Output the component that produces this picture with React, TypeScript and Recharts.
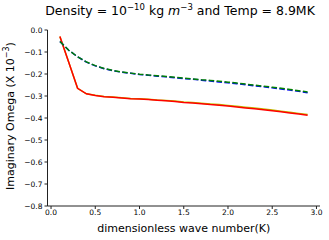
import React from "react";
import {
  Line,
  LineChart,
  XAxis,
  YAxis,
  Label,
} from "recharts";

const kValues = [
  0.1, 0.2, 0.3, 0.4, 0.5, 0.6, 0.7, 0.8, 0.9, 1.0, 1.1, 1.2, 1.3, 1.4, 1.5,
  1.6, 1.7, 1.8, 1.9, 2.0, 2.1, 2.2, 2.3, 2.4, 2.5, 2.6, 2.7, 2.8, 2.9,
];
const redVals = [
  -0.03, -0.147, -0.265, -0.29, -0.298, -0.303, -0.306, -0.309, -0.312, -0.314,
  -0.316, -0.319, -0.322, -0.325, -0.329, -0.332, -0.335, -0.339, -0.342,
  -0.346, -0.35, -0.354, -0.358, -0.362, -0.367, -0.372, -0.377, -0.382, -0.387,
];
const yellowVals = [
  -0.03, -0.147, -0.265, -0.29, -0.297, -0.302, -0.305, -0.308, -0.311, -0.313,
  -0.315, -0.318, -0.32, -0.323, -0.327, -0.33, -0.333, -0.336, -0.339, -0.343,
  -0.347, -0.351, -0.355, -0.359, -0.364, -0.369, -0.374, -0.379, -0.384,
];
const greenVals = [
  -0.052, -0.092, -0.122, -0.145, -0.162, -0.175, -0.184, -0.191, -0.196,
  -0.201, -0.205, -0.208, -0.211, -0.215, -0.219, -0.222, -0.226, -0.229,
  -0.233, -0.237, -0.241, -0.246, -0.251, -0.255, -0.26, -0.265, -0.27, -0.276,
  -0.282,
];
const blueVals = [
  -0.052, -0.092, -0.122, -0.146, -0.163, -0.176, -0.185, -0.192, -0.197,
  -0.202, -0.206, -0.21, -0.213, -0.217, -0.221, -0.224, -0.228, -0.232,
  -0.236, -0.24, -0.244, -0.249, -0.254, -0.258, -0.263, -0.268, -0.273,
  -0.279, -0.285,
];
const xTicks = [0, 0.5, 1.0, 1.5, 2.0, 2.5, 3.0];
const yTicks = [0, -0.1, -0.2, -0.3, -0.4, -0.5, -0.6, -0.7, -0.8];

const data = kValues.map((k, i) => ({
  k,
  red: redVals[i],
  yellow: yellowVals[i],
  green: greenVals[i],
  blue: blueVals[i],
}));

const FONT = "DejaVu Sans, sans-serif";
const AXIS = "#222";

const fmtY = (v: number) => (v === 0 ? "0.0" : "\u2212" + Math.abs(v).toFixed(1));

export default function App() {
  return (
    <div style={{ position: "absolute", left: 0, top: 0, width: 329, height: 240, background: "#fff" }}>
      <div
        style={{
          position: "absolute",
          left: 0,
          width: 360,
          top: 2,
          textAlign: "center",
          fontFamily: FONT,
          fontSize: 12.5,
          color: "#000",
          whiteSpace: "nowrap",
        }}
      >
        Density = 10<sup style={{ fontSize: 8.5 }}>−10</sup> kg <i>m</i>
        <sup style={{ fontSize: 8.5 }}>−3</sup> and Temp = 8.9MK
      </div>
      <LineChart
        width={329}
        height={240}
        data={data}
        margin={{ top: 30, right: 9, bottom: 0, left: 0 }}
      >
        <XAxis
          dataKey="k"
          type="number"
          domain={[-0.04, 3.04]}
          ticks={xTicks}
          tickFormatter={(v: number) => v.toFixed(1)}
          allowDataOverflow
          height={34}
          stroke={AXIS}
          tickSize={3}
          tickMargin={1}
          tick={{ fontSize: 7.5, fill: "#000", fontFamily: FONT }}
        >
          <Label
            content={({ viewBox }: any) => (
              <text
                x={viewBox.x + viewBox.width / 2}
                y={viewBox.y + 26}
                textAnchor="middle"
                fontSize={11}
                fontFamily={FONT}
                fill="#000"
              >
                dimensionless wave number(K)
              </text>
            )}
          />
        </XAxis>
        <XAxis
          xAxisId="top"
          dataKey="k"
          type="number"
          domain={[-0.04, 3.04]}
          orientation="top"
          tick={false}
          tickLine={false}
          height={0}
          stroke={AXIS}
        />
        <YAxis
          type="number"
          domain={[-0.8, 0]}
          ticks={yTicks}
          tickFormatter={fmtY}
          allowDataOverflow
          width={47.5}
          stroke={AXIS}
          tickSize={3}
          tickMargin={2}
          tick={{ fontSize: 7.5, fill: "#000", fontFamily: FONT }}
        >
          <Label
            content={({ viewBox }: any) => {
              const cx = 10;
              const cy = viewBox.y + viewBox.height / 2 - 2;
              return (
                <text
                  x={cx}
                  y={cy}
                  transform={`rotate(-90 ${cx} ${cy})`}
                  textAnchor="middle"
                  dominantBaseline="central"
                  fontSize={11}
                  fontFamily={FONT}
                  fill="#000"
                >
                  Imaginary Omega (X 10
                  <tspan fontSize={8} dy={-4}>
                    −3
                  </tspan>
                  <tspan dy={4}>)</tspan>
                </text>
              );
            }}
          />
        </YAxis>
        <YAxis
          yAxisId="right"
          orientation="right"
          type="number"
          domain={[-0.8, 0]}
          tick={false}
          tickLine={false}
          width={0}
          stroke={AXIS}
        />
        <Line
          dataKey="yellow"
          stroke="#bfbf00"
          strokeWidth={1.5}
          dot={false}
          isAnimationActive={false}
        />
        <Line
          dataKey="red"
          stroke="#ff0000"
          strokeWidth={1.5}
          dot={false}
          isAnimationActive={false}
        />
        <Line
          dataKey="blue"
          stroke="#0000ff"
          strokeWidth={1.5}
          strokeDasharray="5.5 2.4"
          dot={false}
          isAnimationActive={false}
        />
        <Line
          dataKey="green"
          stroke="#008000"
          strokeWidth={1.5}
          strokeDasharray="5.5 2.4"
          dot={false}
          isAnimationActive={false}
        />
      </LineChart>
    </div>
  );
}
